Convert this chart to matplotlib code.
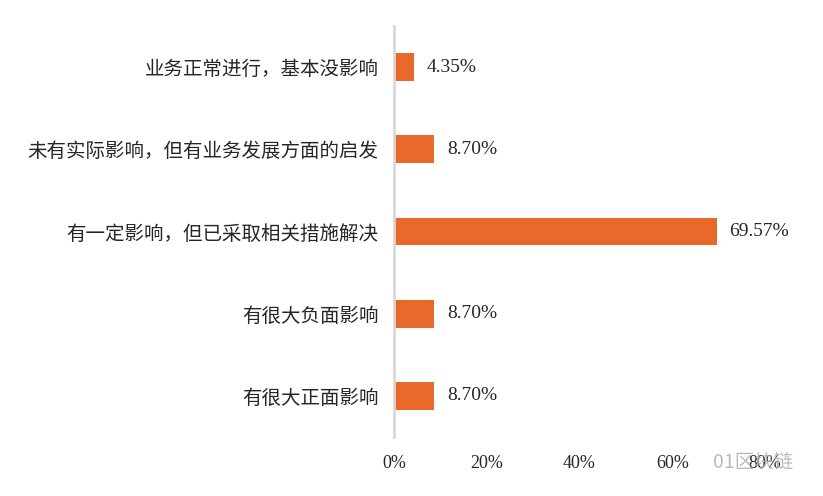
import matplotlib

matplotlib.use("Agg")
import matplotlib.pyplot as plt  # noqa: E402
from matplotlib.ticker import FuncFormatter  # noqa: E402

plt.rcParams["font.family"] = ["Noto Sans CJK SC", "DejaVu Sans"]

# top to bottom as shown in the chart
CATEGORIES = [
    "业务正常进行，基本没影响",
    "未有实际影响，但有业务发展方面的启发",
    "有一定影响，但已采取相关措施解决",
    "有很大负面影响",
    "有很大正面影响",
]
SHARES = [0.0435, 0.0870, 0.6957, 0.0870, 0.0870]
XTICKS = [0.0, 0.2, 0.4, 0.6, 0.8]

BAR_COLOR = "#E9692A"
NUM_FONT = "Liberation Serif"
TEXT_COLOR = "#262626"

fig = plt.figure(figsize=(8.23, 4.96), dpi=100)
ax = fig.add_axes([0.4787, 0.119, 0.4508, 0.8286])

ypos = list(range(len(CATEGORIES)))[::-1]
ax.barh(ypos, SHARES, height=0.34, color=BAR_COLOR)

for y, v in zip(ypos, SHARES):
    ax.annotate(f"{v * 100:.2f}%", (v, y), xytext=(9, 0), textcoords="offset points",
                ha="left", va="center", fontsize=14, family=NUM_FONT, color=TEXT_COLOR)

ax.set_xlim(0, 0.8)
ax.set_ylim(-0.5, len(CATEGORIES) - 0.5)
ax.set_xticks(XTICKS)
ax.xaxis.set_major_formatter(FuncFormatter(lambda x, _: f"{x * 100:.0f}%"))
for lab in ax.get_xticklabels():
    lab.set_family(NUM_FONT)
    lab.set_fontsize(13)
    lab.set_color(TEXT_COLOR)
ax.set_yticks(ypos)
ax.set_yticklabels(CATEGORIES, fontsize=14, color=TEXT_COLOR)

ax.tick_params(axis="x", length=0, pad=13)
ax.tick_params(axis="y", length=0, pad=11)
for name, spine in ax.spines.items():
    spine.set_visible(name == "left")
ax.spines["left"].set_color("#D9D9D9")
ax.spines["left"].set_linewidth(2)

# watermark in the lower right corner, drawn over the 80% tick
fig.text(0.866, 0.068, "01区块链", fontsize=14, color="#b0b0b0", alpha=0.85,
         ha="left", va="center")

fig.savefig("out.png", dpi=100, facecolor="white")
